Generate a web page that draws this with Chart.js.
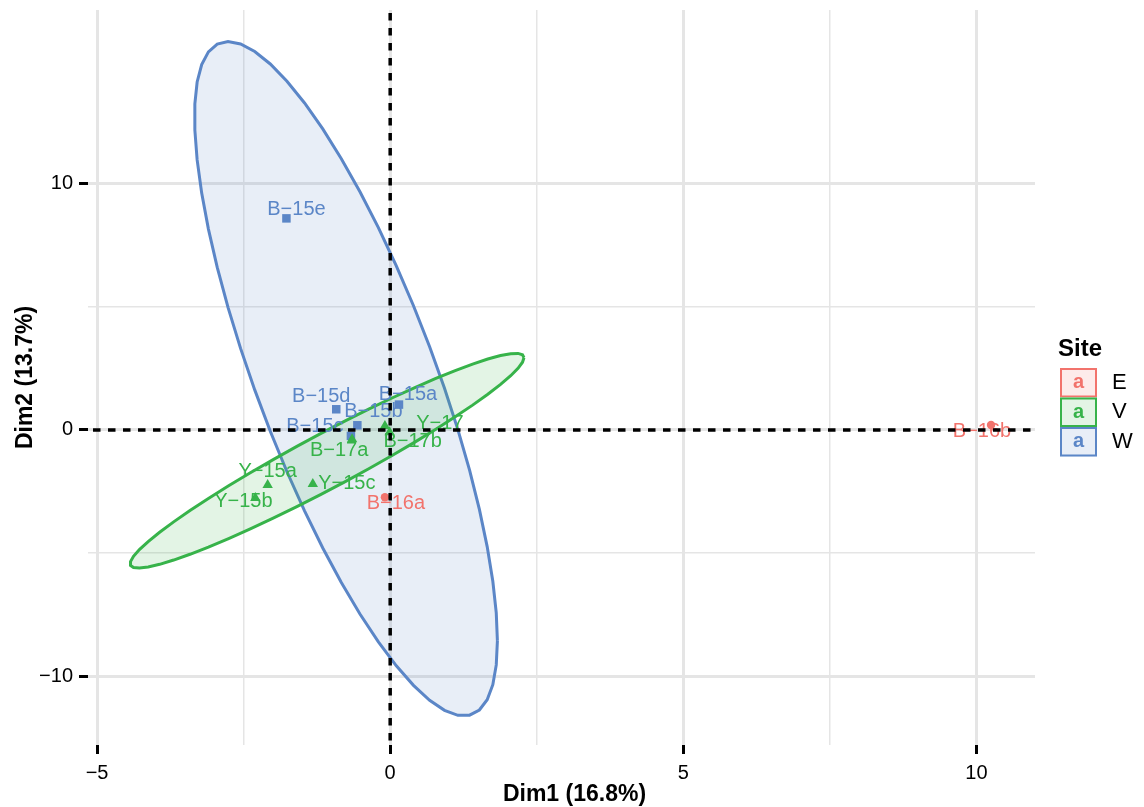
<!DOCTYPE html>
<html>
<head>
<meta charset="utf-8">
<title>PCA individuals by site</title>
<script src="https://cdn.jsdelivr.net/npm/chart.js@4/dist/chart.umd.min.js"></script>
<style>
  html, body { margin: 0; padding: 0; background: #ffffff; }
  canvas { display: block; }
</style>
</head>
<body>
<canvas id="pca" width="1144" height="807"></canvas>
<script>
// ---- data -------------------------------------------------------------
const sampleNames = ['B−15a', 'B−15b', 'B−15c', 'B−15d', 'B−15e', 'B−16a', 'B−16b',
                     'B−17a', 'B−17b', 'Y−15a', 'Y−15b', 'Y−15c', 'Y−17'];
const sampleSite  = ['W', 'W', 'W', 'W', 'W', 'E', 'E', 'V', 'V', 'V', 'V', 'V', 'V'];
const dim1 = [0.15, -0.56, -0.67, -0.92, -1.77, -0.09, 10.25, -0.65, -0.01, -2.09, -2.30, -1.32, -0.09];
const dim2 = [1.03, 0.19, -0.24, 0.84, 8.59, -2.73, 0.20, -0.38, -0.09, -2.23, -2.76, -2.19, 0.16];
const siteLevels = ['E', 'V', 'W'];

const xMajorTicks = [-5, 0, 5, 10];
const xMinorTicks = [-2.5, 2.5, 7.5];
const yMajorTicks = [-10, 0, 10];
const yMinorTicks = [-5, 5];

const xTitle = 'Dim1 (16.8%)';
const yTitle = 'Dim2 (13.7%)';
const legendTitle = 'Site';

// ---- styling ----------------------------------------------------------
const FONT = '"Liberation Sans", Arial, Helvetica, sans-serif';
const siteColor  = { E: '#F2736C', V: '#37B34A', W: '#5B86C7' };
const siteShape  = { E: 'circle', V: 'triangle', W: 'rect' };
const siteRadius = { E: 4.2, V: 6, W: 6 };
const FILL_ALPHA = 0.14;
// pixel nudges for the sample labels, so they do not sit on top of each other
const labelShift = [[9, -10], [16, -14], [-36, -9], [-15, -13], [10, -9], [11, 6], [-9, 6],
                    [-13, 11], [23, 9], [0, -13], [-12, 4], [34, 0], [55, -3]];

function withAlpha(hex, a) {
  const n = parseInt(hex.slice(1), 16);
  return `rgba(${(n >> 16) & 255}, ${(n >> 8) & 255}, ${n & 255}, ${a})`;
}

// 95% quantile of F(2, df2), closed form
function fQuantile95(df2) {
  return (df2 / 2) * (Math.pow(0.05, -2 / df2) - 1);
}

// Normal-theory 95% ellipse (mean, sample covariance, Cholesky factor),
// the same construction as ggplot2's stat_ellipse(type = "norm").
function normEllipse(xs, ys, segments = 51) {
  const n = xs.length;
  const mx = xs.reduce((s, v) => s + v, 0) / n;
  const my = ys.reduce((s, v) => s + v, 0) / n;
  let sxx = 0, syy = 0, sxy = 0;
  for (let i = 0; i < n; i++) {
    const dx = xs[i] - mx, dy = ys[i] - my;
    sxx += dx * dx; syy += dy * dy; sxy += dx * dy;
  }
  sxx /= (n - 1); syy /= (n - 1); sxy /= (n - 1);
  const a = Math.sqrt(sxx);
  const b = sxy / a;
  const c = Math.sqrt(Math.max(syy - b * b, 0));
  const r = Math.sqrt(2 * fQuantile95(n - 1));
  const pts = [];
  for (let k = 0; k <= segments; k++) {
    const t = 2 * Math.PI * k / segments;
    pts.push({ x: mx + r * a * Math.cos(t), y: my + r * (b * Math.cos(t) + c * Math.sin(t)) });
  }
  return pts;
}

// ---- datasets ---------------------------------------------------------
const datasets = [];
siteLevels.forEach((site, gi) => {
  const idx = sampleSite.map((s, i) => (s === site ? i : -1)).filter(i => i >= 0);
  const col = siteColor[site];
  if (idx.length > 2) {
    datasets.push({
      label: site + ' ellipse',
      data: normEllipse(idx.map(i => dim1[i]), idx.map(i => dim2[i])),
      showLine: true,
      fill: 'shape',
      backgroundColor: withAlpha(col, FILL_ALPHA),
      borderColor: col,
      borderWidth: 3,
      pointRadius: 0,
      pointHoverRadius: 0,
      tension: 0,
      order: 5 + gi
    });
  }
  datasets.push({
    label: site,
    data: idx.map(i => ({ x: dim1[i], y: dim2[i] })),
    showLine: false,
    pointStyle: siteShape[site],
    pointRadius: siteRadius[site],
    pointHoverRadius: siteRadius[site],
    backgroundColor: col,
    borderColor: col,
    borderWidth: 0,
    order: 1
  });
});

// ---- helpers for axes --------------------------------------------------
const fmt = v => (v < 0 ? '−' + Math.abs(v) : String(v));

function axisOptions(major, minor, min, max, tickPad, extra) {
  const all = major.concat(minor).sort((p, q) => p - q);
  return Object.assign({
    type: 'linear',
    min, max,
    afterBuildTicks: s => { s.ticks = all.map(v => ({ value: v })); },
    ticks: {
      autoSkip: false,
      padding: tickPad,
      color: '#000000',
      font: { family: FONT, size: 20 },
      callback: v => (major.includes(v) ? fmt(v) : '')
    },
    grid: {
      color: '#E5E5E5',
      lineWidth: ctx => (ctx.tick && major.includes(ctx.tick.value) ? 3 : 1.5),
      drawTicks: true,
      tickLength: 9,
      tickWidth: 3,
      tickColor: ctx => (ctx.tick && major.includes(ctx.tick.value) ? '#000000' : 'rgba(0,0,0,0)')
    },
    border: { display: false }
  }, extra);
}

// ---- plugins ------------------------------------------------------------
const overlayPlugin = {
  id: 'overlay',
  afterDatasetsDraw(chart) {
    const { ctx, chartArea: ca, scales: { x, y } } = chart;
    ctx.save();
    // sample labels
    ctx.font = `20px ${FONT}`;
    ctx.textAlign = 'center';
    ctx.textBaseline = 'middle';
    sampleNames.forEach((name, i) => {
      const px = x.getPixelForValue(dim1[i]) + labelShift[i][0];
      const py = y.getPixelForValue(dim2[i]) + labelShift[i][1];
      ctx.fillStyle = siteColor[sampleSite[i]];
      ctx.fillText(name, px, py);
    });
    // dashed reference lines through the origin
    ctx.strokeStyle = '#000000';
    ctx.lineWidth = 3.5;
    ctx.setLineDash([7.5, 7.5]);
    const x0 = x.getPixelForValue(0);
    const y0 = y.getPixelForValue(0);
    ctx.beginPath();
    ctx.lineDashOffset = -3;
    ctx.moveTo(x0, ca.top); ctx.lineTo(x0, ca.bottom);
    ctx.stroke();
    ctx.beginPath();
    ctx.lineDashOffset = -5;
    ctx.moveTo(ca.left, y0); ctx.lineTo(ca.right, y0);
    ctx.stroke();
    ctx.restore();
  },
  afterDraw(chart) {
    // x axis title, set a little right of the panel centre
    const { ctx, chartArea: ca } = chart;
    ctx.save();
    ctx.fillStyle = '#000000';
    ctx.font = `bold 23px ${FONT}`;
    ctx.textAlign = 'center';
    ctx.textBaseline = 'middle';
    ctx.fillText(xTitle, (ca.left + ca.right) / 2 + 13, 795);
    ctx.restore();
  }
};

const sideLegendPlugin = {
  id: 'sideLegend',
  afterDraw(chart) {
    const { ctx, chartArea: ca } = chart;
    const left = ca.right + 25;
    const keyW = 37, keyH = 29.5;
    const top = 368;
    ctx.save();
    ctx.fillStyle = '#000000';
    ctx.font = `bold 24px ${FONT}`;
    ctx.textAlign = 'left';
    ctx.textBaseline = 'middle';
    ctx.fillText(legendTitle, left - 2, 349);
    siteLevels.forEach((site, i) => {
      const col = siteColor[site];
      const ky = top + i * keyH;
      ctx.fillStyle = '#ffffff';
      ctx.fillRect(left, ky, keyW, keyH);
      ctx.fillStyle = withAlpha(col, FILL_ALPHA);
      ctx.fillRect(left, ky, keyW, keyH);
      ctx.strokeStyle = col;
      ctx.lineWidth = 2;
      ctx.strokeRect(left + 1, ky + 1, keyW - 2, keyH - 2);
      ctx.fillStyle = col;
      ctx.font = `bold 20px ${FONT}`;
      ctx.textAlign = 'center';
      ctx.fillText('a', left + keyW / 2, ky + keyH / 2);
      ctx.fillStyle = '#000000';
      ctx.font = `22px ${FONT}`;
      ctx.textAlign = 'left';
      ctx.fillText(site, left + keyW + 15, ky + keyH / 2);
    });
    ctx.restore();
  }
};

// ---- chart ----------------------------------------------------------------
Chart.defaults.font.family = FONT;

new Chart(document.getElementById('pca'), {
  type: 'scatter',
  data: { datasets },
  plugins: [overlayPlugin, sideLegendPlugin],
  options: {
    responsive: false,
    animation: false,
    devicePixelRatio: 1,
    layout: { padding: { top: 10, right: 109, bottom: 0, left: 0 } },
    plugins: {
      legend: { display: false },
      tooltip: { enabled: false },
      title: { display: false }
    },
    scales: {
      x: axisOptions(xMajorTicks, xMinorTicks, -5.155, 11.0, 7, {
        position: 'bottom',
        title: { display: false },
        afterFit: s => { s.height = 62; s.paddingLeft = 0; s.paddingRight = 0; }
      }),
      y: axisOptions(yMajorTicks, yMinorTicks, -12.79, 17.05, 6, {
        position: 'left',
        title: {
          display: true, text: yTitle, color: '#000000',
          font: { family: FONT, size: 23, weight: 'bold' },
          padding: { top: 12, bottom: 0 }
        },
        afterFit: s => { s.width = 88; s.paddingTop = 0; s.paddingBottom = 0; }
      })
    }
  }
});
</script>
</body>
</html>
